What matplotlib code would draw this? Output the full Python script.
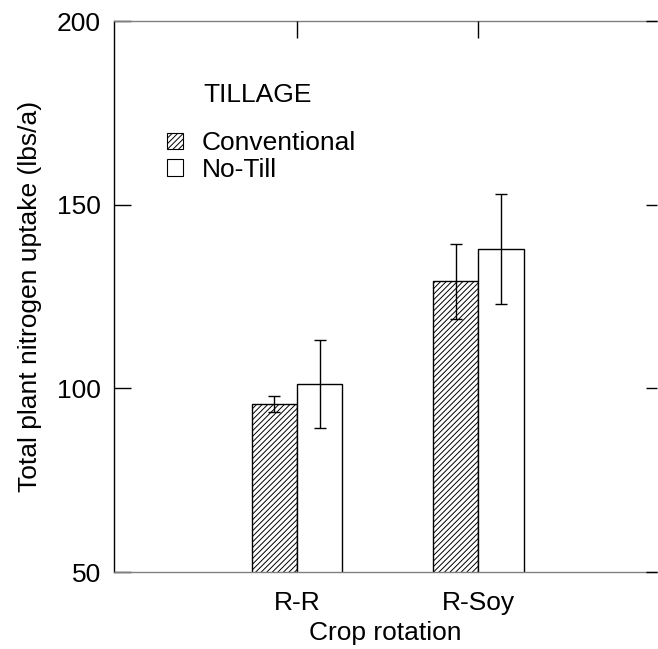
import numpy as np
import matplotlib
matplotlib.use("Agg")
import matplotlib.pyplot as plt
from matplotlib.patches import Patch

# === Data ===
rotations = ["R-R", "R-Soy"]
tillage = ["Conventional", "No-Till"]
conventional = [95.8, 129.2]
conventional_err = [2.2, 10.2]
no_till = [101.3, 137.9]
no_till_err = [12.0, 15.0]
y_ticks = [50, 100, 150, 200]

plt.rcParams["font.family"] = ["Liberation Sans", "DejaVu Sans"]
plt.rcParams["hatch.linewidth"] = 0.7
FS = 19

fig = plt.figure(figsize=(6.58, 6.49), dpi=100)
ax = fig.add_axes([0.1725, 0.1186, 0.8265, 0.849])

x = np.arange(1, len(rotations) + 1)
w = 0.25
err_kw = dict(ecolor="black", elinewidth=1.0, capsize=4.5, capthick=1.0)
ax.bar(x - w / 2, conventional, w, color="white", edgecolor="black",
       hatch="//////", linewidth=1.0, yerr=conventional_err, error_kw=err_kw, zorder=2)
ax.bar(x + w / 2, no_till, w, color="white", edgecolor="black",
       linewidth=1.0, yerr=no_till_err, error_kw=err_kw, zorder=2)

ax.set_xlim(-0.013, 2.987)
ax.set_ylim(50, 200)
ax.set_yticks(y_ticks)
ax.set_xticks(x)
ax.set_xticklabels(rotations, fontsize=FS)
ax.tick_params(axis="x", length=0, pad=14)
ax.tick_params(axis="y", direction="in", length=12, width=1, pad=9, labelsize=FS)

ax.spines["right"].set_visible(False)
ax.spines["top"].set_color("0.5")
ax.spines["bottom"].set_color("0.5")
for s in ["left", "bottom", "top"]:
    ax.spines[s].set_linewidth(1.0)

# right side ticks
axr = ax.twinx()
axr.set_ylim(50, 200)
axr.set_yticks(y_ticks)
axr.tick_params(axis="y", direction="in", length=8, width=1, labelright=False)
for s in axr.spines.values():
    s.set_visible(False)

# top ticks
axt = ax.twiny()
axt.set_xlim(ax.get_xlim())
axt.set_xticks(x)
axt.tick_params(axis="x", direction="in", length=12, width=1, labeltop=False)
for s in axt.spines.values():
    s.set_visible(False)

ax.set_xlabel("Crop rotation", fontsize=FS, labelpad=4)
ax.set_ylabel("Total plant nitrogen uptake (lbs/a)", fontsize=FS, labelpad=11)

ax.text(0.165, 0.866, "TILLAGE", transform=ax.transAxes, fontsize=FS,
        va="center", ha="left")
handles = [Patch(facecolor="white", edgecolor="black", hatch="//////", linewidth=0.8),
           Patch(facecolor="white", edgecolor="black", linewidth=0.8)]
ax.legend(handles, tillage, loc="upper left", bbox_to_anchor=(0.099, 0.80),
          frameon=False, fontsize=FS, handlelength=0.6, handleheight=0.6,
          handletextpad=0.7, labelspacing=0.1, borderpad=0, borderaxespad=0)

fig.savefig("out.png", dpi=100)
